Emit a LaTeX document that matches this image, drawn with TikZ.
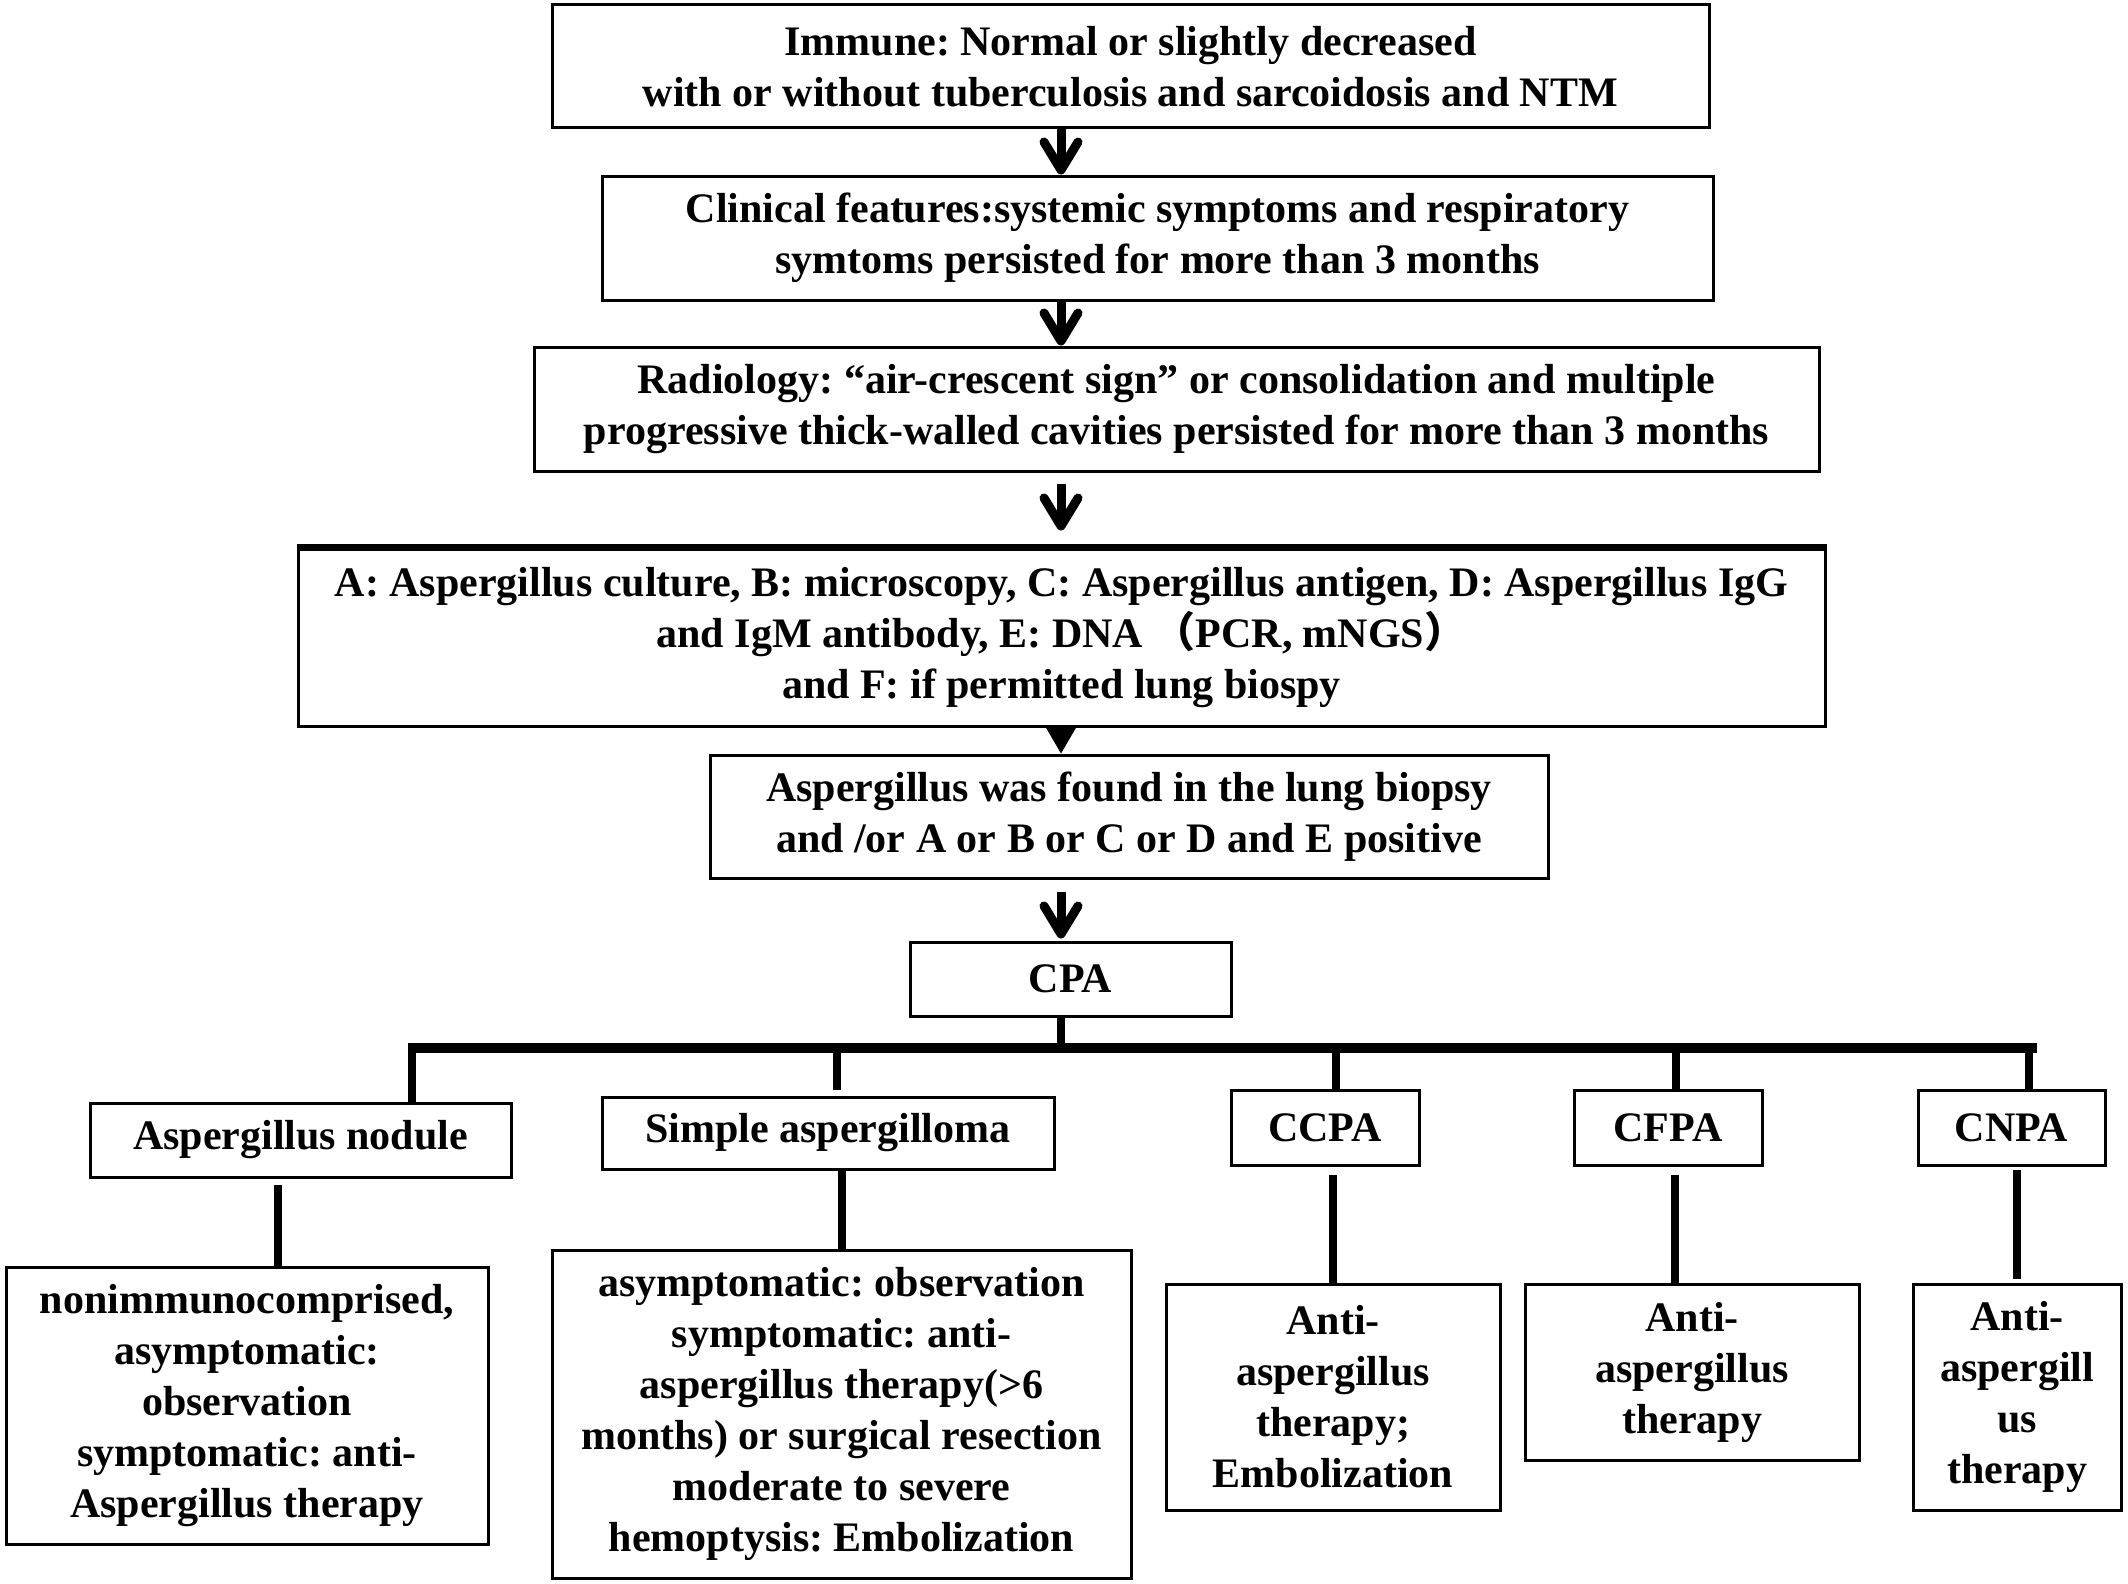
\documentclass[tikz,border=0pt]{standalone}
\usepackage{fontspec}
\setmainfont{Liberation Serif}
\newfontfamily\cjk{Noto Sans CJK SC}
\usetikzlibrary{arrows.meta}
\frenchspacing
\begin{document}
\begin{tikzpicture}[x=1pt,y=-1pt,
  box/.style={draw, line width=3pt, inner sep=0pt, align=center,
    font=\fontsize{42}{51}\selectfont\bfseries\frenchspacing},
  arr/.style={line width=9pt, -{Straight Barb[length=28pt,width=34pt,round]}},
  tri/.style={line width=1pt, -{Triangle[length=26pt,width=30pt]}},
  bus/.style={line width=10pt},
  link/.style={line width=8pt}]
\useasboundingbox (0,0) rectangle (2128,1584);
% main chain
\node[box, minimum width=1157pt, minimum height=123pt] (b1) at (1130.5,66.5)
  {Immune: Normal or slightly decreased\\with or without tuberculosis and sarcoidosis and NTM};
\node[box, minimum width=1111pt, minimum height=124pt] (b2) at (1157.5,238)
  {Clinical features:systemic symptoms and respiratory\\symtoms persisted for more than 3 months};
\node[box, minimum width=1285pt, minimum height=124pt] (b3) at (1176.5,409)
  {Radiology: “air-crescent sign” or consolidation and multiple\\progressive thick-walled cavities persisted for more than 3 months};
\node[box, minimum width=1527pt, minimum height=177pt] (b4) at (1061.5,637.5)
  {A: Aspergillus culture, B: microscopy, C: Aspergillus antigen, D: Aspergillus IgG\\and IgM antibody, E: DNA {\cjk （}PCR, mNGS{\cjk ）}\\and F: if permitted lung biospy};
\draw[line width=7pt] (b4.north west) -- (b4.north east);
\node[box, minimum width=838pt, minimum height=123pt] (b5) at (1129,816.5)
  {Aspergillus was found in the lung biopsy\\and /or A or B or C or D and E positive};
\node[box, minimum width=321pt, minimum height=74pt] (cpa) at (1070.5,979) {CPA};
% categories
\node[box, minimum width=421pt, minimum height=74pt] (nod) at (300.5,1140) {Aspergillus nodule};
\node[box, minimum width=452pt, minimum height=72pt] (sim) at (828,1133) {Simple aspergilloma};
\node[box, minimum width=188pt, minimum height=75pt] (ccpa) at (1325,1127.5) {CCPA};
\node[box, minimum width=188pt, minimum height=75pt] (cfpa) at (1668,1127.5) {CFPA};
\node[box, minimum width=187pt, minimum height=75pt] (cnpa) at (2011.5,1127.5) {CNPA};
% treatments
\node[box, minimum width=482pt, minimum height=277pt] (d1) at (247,1405.5)
  {nonimmunocomprised,\\asymptomatic:\\observation\\symptomatic: anti-\\Aspergillus therapy};
\node[box, minimum width=579pt, minimum height=328pt] (d2) at (841.5,1414)
  {asymptomatic: observation\\symptomatic: anti-\\aspergillus therapy(>6\\months) or surgical resection\\moderate to severe\\hemoptysis: Embolization};
\node[box, minimum width=334pt, minimum height=226pt] (d3) at (1333,1397)
  {Anti-\\aspergillus\\therapy;\\Embolization};
\node[box, minimum width=334pt, minimum height=176pt] (d4) at (1692,1372)
  {Anti-\\aspergillus\\therapy};
\node[box, minimum width=208pt, minimum height=226pt] (d5) at (2017,1397)
  {Anti-\\aspergill\\us\\therapy};
% arrows
\coordinate (ax) at (1061,0);
\draw[arr] (b1.south -| ax) -- (b2.north -| ax);
\draw[arr] (b2.south -| ax) -- (b3.north -| ax);
\draw[arr, shorten <=11pt, shorten >=17pt] (b3.south -| ax) -- (b4.north -| ax);
\draw[tri] (b4.south -| ax) -- (b5.north -| ax);
\draw[arr, shorten <=12pt, shorten >=2pt] (b5.south -| ax) -- (cpa.north -| ax);
% bus
\coordinate (busL) at (408,1048);
\coordinate (busR) at (2037,1048);
\draw[bus] (busL) -- (busR);
\draw[link] (cpa.south -| ax) -- (busL -| ax);
\coordinate (s1) at (412,1048);
\coordinate (s2) at (837,1043);
\coordinate (s3) at (1336,1048);
\coordinate (s4) at (1676,1048);
\coordinate (s5) at (2029,1048);
\draw[link] (s1) -- (nod.north -| s1);
\draw[link, shorten >=6pt] (s2) -- (sim.north -| s2);
\draw[link] (s3) -- (ccpa.north -| s3);
\draw[link] (s4) -- (cfpa.north -| s4);
\draw[link] (s5) -- (cnpa.north -| s5);
% lower links
\coordinate (l1) at (278,0);
\coordinate (l2) at (842,0);
\coordinate (l3) at (1333,0);
\coordinate (l4) at (1675,0);
\coordinate (l5) at (2017,0);
\draw[link, shorten <=6pt] (nod.south -| l1) -- (d1.north -| l1);
\draw[link] (sim.south -| l2) -- (d2.north -| l2);
\draw[link, shorten <=8pt] (ccpa.south -| l3) -- (d3.north -| l3);
\draw[link, shorten <=8pt] (cfpa.south -| l4) -- (d4.north -| l4);
\draw[link, shorten <=3pt, shorten >=4pt] (cnpa.south -| l5) -- (d5.north -| l5);
\end{tikzpicture}
\end{document}
